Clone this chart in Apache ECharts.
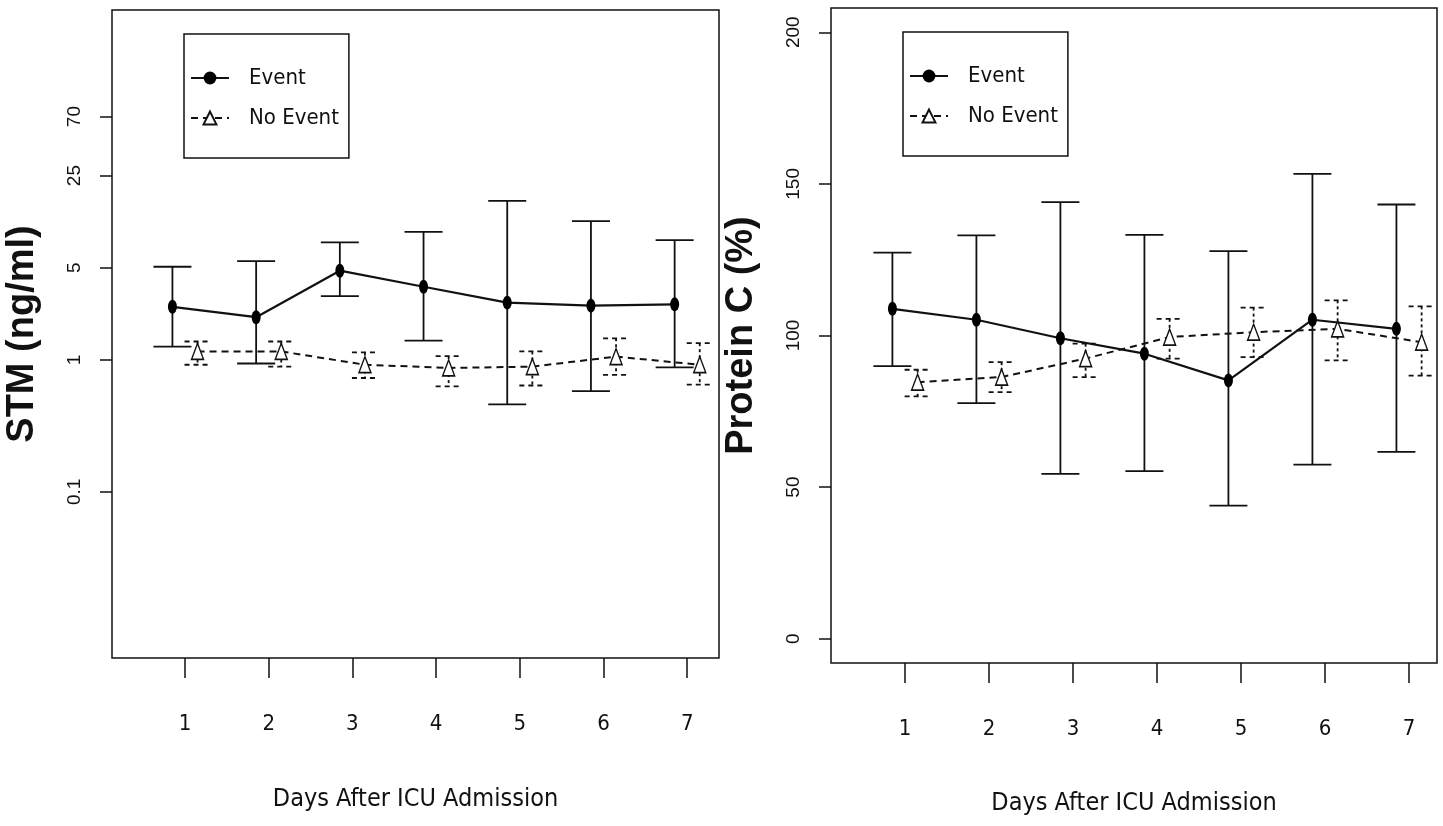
<!DOCTYPE html>
<html>
<head>
<meta charset="utf-8">
<script src="https://cdn.jsdelivr.net/npm/echarts@6/dist/echarts.min.js"></script>
<style>
html, body { margin: 0; padding: 0; background: #fff; }
#chart { width: 1443px; height: 826px; }
</style>
</head>
<body>
<div id="chart"></div>
<script>
// Days and tick labels
const days = [1, 2, 3, 4, 5, 6, 7];
const stmTicks = [0.1, 1, 5, 25, 70];
const pcTicks = [0, 50, 100, 150, 200];
const seriesNames = ['Event', 'No Event'];

// STM (ng/ml), log scale
const stmEventMean = [2.53, 2.11, 4.75, 3.59, 2.72, 2.58, 2.64];
const stmEventLow = [1.26, 0.94, 3.05, 1.40, 0.46, 0.58, 0.88];
const stmEventHigh = [5.09, 5.62, 7.79, 9.37, 16.1, 11.3, 8.11];
const stmNoEventMean = [1.16, 1.16, 0.92, 0.87, 0.89, 1.06, 0.92];
const stmNoEventLow = [0.92, 0.89, 0.73, 0.63, 0.64, 0.77, 0.65];
const stmNoEventHigh = [1.38, 1.38, 1.14, 1.07, 1.16, 1.46, 1.34];

// Protein C (%)
const pcEventMean = [108.8, 105.2, 99.1, 94.0, 85.2, 105.2, 102.2];
const pcEventLow = [89.9, 77.7, 54.4, 55.3, 43.9, 57.4, 61.6];
const pcEventHigh = [127.3, 133.0, 144.0, 133.2, 127.8, 153.3, 143.2];
const pcNoEventMean = [84.6, 86.3, 92.4, 99.5, 101.1, 102.2, 97.8];
const pcNoEventLow = [79.9, 81.3, 86.3, 92.4, 92.9, 91.8, 86.8];
const pcNoEventHigh = [88.7, 91.2, 97.3, 105.5, 109.2, 111.6, 109.6];

const dodge = 0.15;
const ink = '#111';
const narrow = "'Liberation Sans Narrow', 'DejaVu Sans Condensed', 'Arial Narrow', 'Liberation Sans', sans-serif";
const plain = "'Liberation Sans', Arial, Helvetica, sans-serif";

const points = (mean, shift) => days.map((d, i) => [d + shift, mean[i]]);
const ranges = (low, high, shift) => days.map((d, i) => [d + shift, low[i], high[i]]);

function errorBar(capHalf, stemDash, capDash) {
    return (params, api) => {
        const x = api.value(0);
        const lo = api.coord([x, api.value(1)]);
        const hi = api.coord([x, api.value(2)]);
        const seg = (x1, y1, x2, y2, dash) => ({
            type: 'line',
            shape: { x1, y1, x2, y2 },
            style: { stroke: ink, lineWidth: 1.8, lineDash: dash }
        });
        return {
            type: 'group',
            children: [
                seg(hi[0], hi[1], lo[0], lo[1], stemDash),
                seg(hi[0] - capHalf, hi[1], hi[0] + capHalf, hi[1], capDash),
                seg(lo[0] - capHalf, lo[1], lo[0] + capHalf, lo[1], capDash)
            ]
        };
    };
}

function xAxisFor(gridIndex, min, max, gap) {
    return {
        type: 'value', gridIndex, min, max,
        splitLine: { show: false },
        axisLine: { show: false, onZero: false },
        axisTick: { show: true, length: 20, customValues: days, lineStyle: { color: ink, width: 1.5 } },
        axisLabel: { customValues: days, margin: 55, fontFamily: narrow, fontSize: 22, color: ink },
        name: 'Days After ICU Admission', nameLocation: 'middle', nameGap: gap,
        nameTextStyle: { fontFamily: narrow, fontSize: 25, color: ink }
    };
}

function legendAt(left, top) {
    return {
        left, top, orient: 'vertical', data: seriesNames,
        itemWidth: 38, itemHeight: 16, itemGap: 14,
        padding: [31, 10, 27, 6],
        borderColor: ink, borderWidth: 1.5, backgroundColor: '#fff',
        textStyle: { fontFamily: narrow, fontSize: 22, lineHeight: 26, color: ink, padding: [0, 0, 0, 15] },
        selectedMode: false
    };
}

function panelSeries(idx, eMean, eLow, eHigh, nMean, nLow, nHigh) {
    return [
        {
            type: 'line', name: 'Event', xAxisIndex: idx, yAxisIndex: idx, z: 3,
            symbol: 'circle', symbolSize: [9, 14],
            itemStyle: { color: '#000' },
            lineStyle: { color: ink, width: 2.2 },
            data: points(eMean, -dodge)
        },
        {
            type: 'line', name: 'No Event', xAxisIndex: idx, yAxisIndex: idx, z: 2,
            symbol: 'triangle', symbolSize: [12, 16],
            itemStyle: { color: '#fff', borderColor: ink, borderWidth: 1.5 },
            lineStyle: { color: ink, width: 2, type: [7, 5] },
            data: points(nMean, dodge)
        },
        {
            type: 'custom', name: 'Event range', xAxisIndex: idx, yAxisIndex: idx, z: 1,
            renderItem: errorBar(19, null, null),
            encode: { x: 0, y: [1, 2] },
            data: ranges(eLow, eHigh, -dodge)
        },
        {
            type: 'custom', name: 'No Event range', xAxisIndex: idx, yAxisIndex: idx, z: 1,
            renderItem: errorBar(13, [3, 3], [5, 4]),
            encode: { x: 0, y: [1, 2] },
            data: ranges(nLow, nHigh, dodge)
        }
    ];
}

const chart = echarts.init(document.getElementById('chart'));
chart.setOption({
    animation: false,
    backgroundColor: '#fff',
    grid: [
        { left: 112, top: 10, width: 607, height: 648, show: true, borderColor: ink, borderWidth: 1.5 },
        { left: 831, top: 8, width: 606, height: 655, show: true, borderColor: ink, borderWidth: 1.5 }
    ],
    legend: [legendAt(184, 34), legendAt(903, 32)],
    xAxis: [xAxisFor(0, 0.128, 7.38, 129), xAxisFor(1, 0.119, 7.333, 128)],
    yAxis: [
        {
            type: 'log', logBase: 10, gridIndex: 0, min: 0.0055, max: 450,
            splitLine: { show: false },
            axisLine: { show: false, onZero: false },
            axisTick: { show: true, length: 12, customValues: stmTicks, lineStyle: { color: ink, width: 1.5 } },
            axisLabel: { customValues: stmTicks, rotate: 90, margin: 28, fontFamily: plain, fontSize: 19, color: ink },
            name: 'STM (ng/ml)', nameLocation: 'middle', nameGap: 70,
            nameTextStyle: { fontFamily: plain, fontWeight: 'bold', fontSize: 38, color: ink }
        },
        {
            type: 'value', gridIndex: 1, min: -8, max: 208,
            splitLine: { show: false },
            axisLine: { show: false, onZero: false },
            axisTick: { show: true, length: 12, customValues: pcTicks, lineStyle: { color: ink, width: 1.5 } },
            axisLabel: { customValues: pcTicks, rotate: 90, margin: 28, fontFamily: plain, fontSize: 19, color: ink },
            name: 'Protein C (%)', nameLocation: 'middle', nameGap: 70,
            nameTextStyle: { fontFamily: plain, fontWeight: 'bold', fontSize: 38, color: ink }
        }
    ],
    series: [
        ...panelSeries(0, stmEventMean, stmEventLow, stmEventHigh, stmNoEventMean, stmNoEventLow, stmNoEventHigh),
        ...panelSeries(1, pcEventMean, pcEventLow, pcEventHigh, pcNoEventMean, pcNoEventLow, pcNoEventHigh)
    ]
});
</script>
</body>
</html>
